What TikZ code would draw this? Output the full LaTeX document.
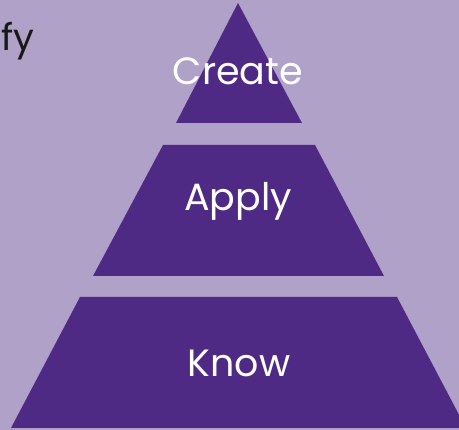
\documentclass[tikz,border=0pt]{standalone}
\usepackage{fontspec}
\setmainfont{Poppins}
\usetikzlibrary{positioning}
\definecolor{bgpurple}{HTML}{B0A1C9}
\definecolor{darkpurple}{HTML}{4E2A84}

\begin{document}
\begin{tikzpicture}[x=1pt,y=1pt,
  level/.style={fill=darkpurple},
  levellabel/.style={text=white, font=\fontsize{38}{44}\selectfont, anchor=base}]
  \useasboundingbox (0,0) rectangle (459,430);
  \clip (0,0) rectangle (459,430);
  \fill[bgpurple] (0,0) rectangle (459,430);
  % pyramid levels
  \fill[level] (238,427) -- (302,307) -- (176,307) -- cycle;
  \fill[level] (163,285) -- (315,285) -- (384,154) -- (93,154) -- cycle;
  \fill[level] (80,133) -- (397,133) -- (466,2) -- (11,2) -- cycle;
  \node[levellabel] (create) at (238,345) {Create};
  \node[levellabel] (apply) at (238,219) {Apply};
  \node[levellabel] (know) at (239,53) {Know};
  \node[text=black!90, font=\fontsize{37}{42}\selectfont, anchor=base west, inner sep=0pt] (cut) at (1,379) {fy};
\end{tikzpicture}
\end{document}
